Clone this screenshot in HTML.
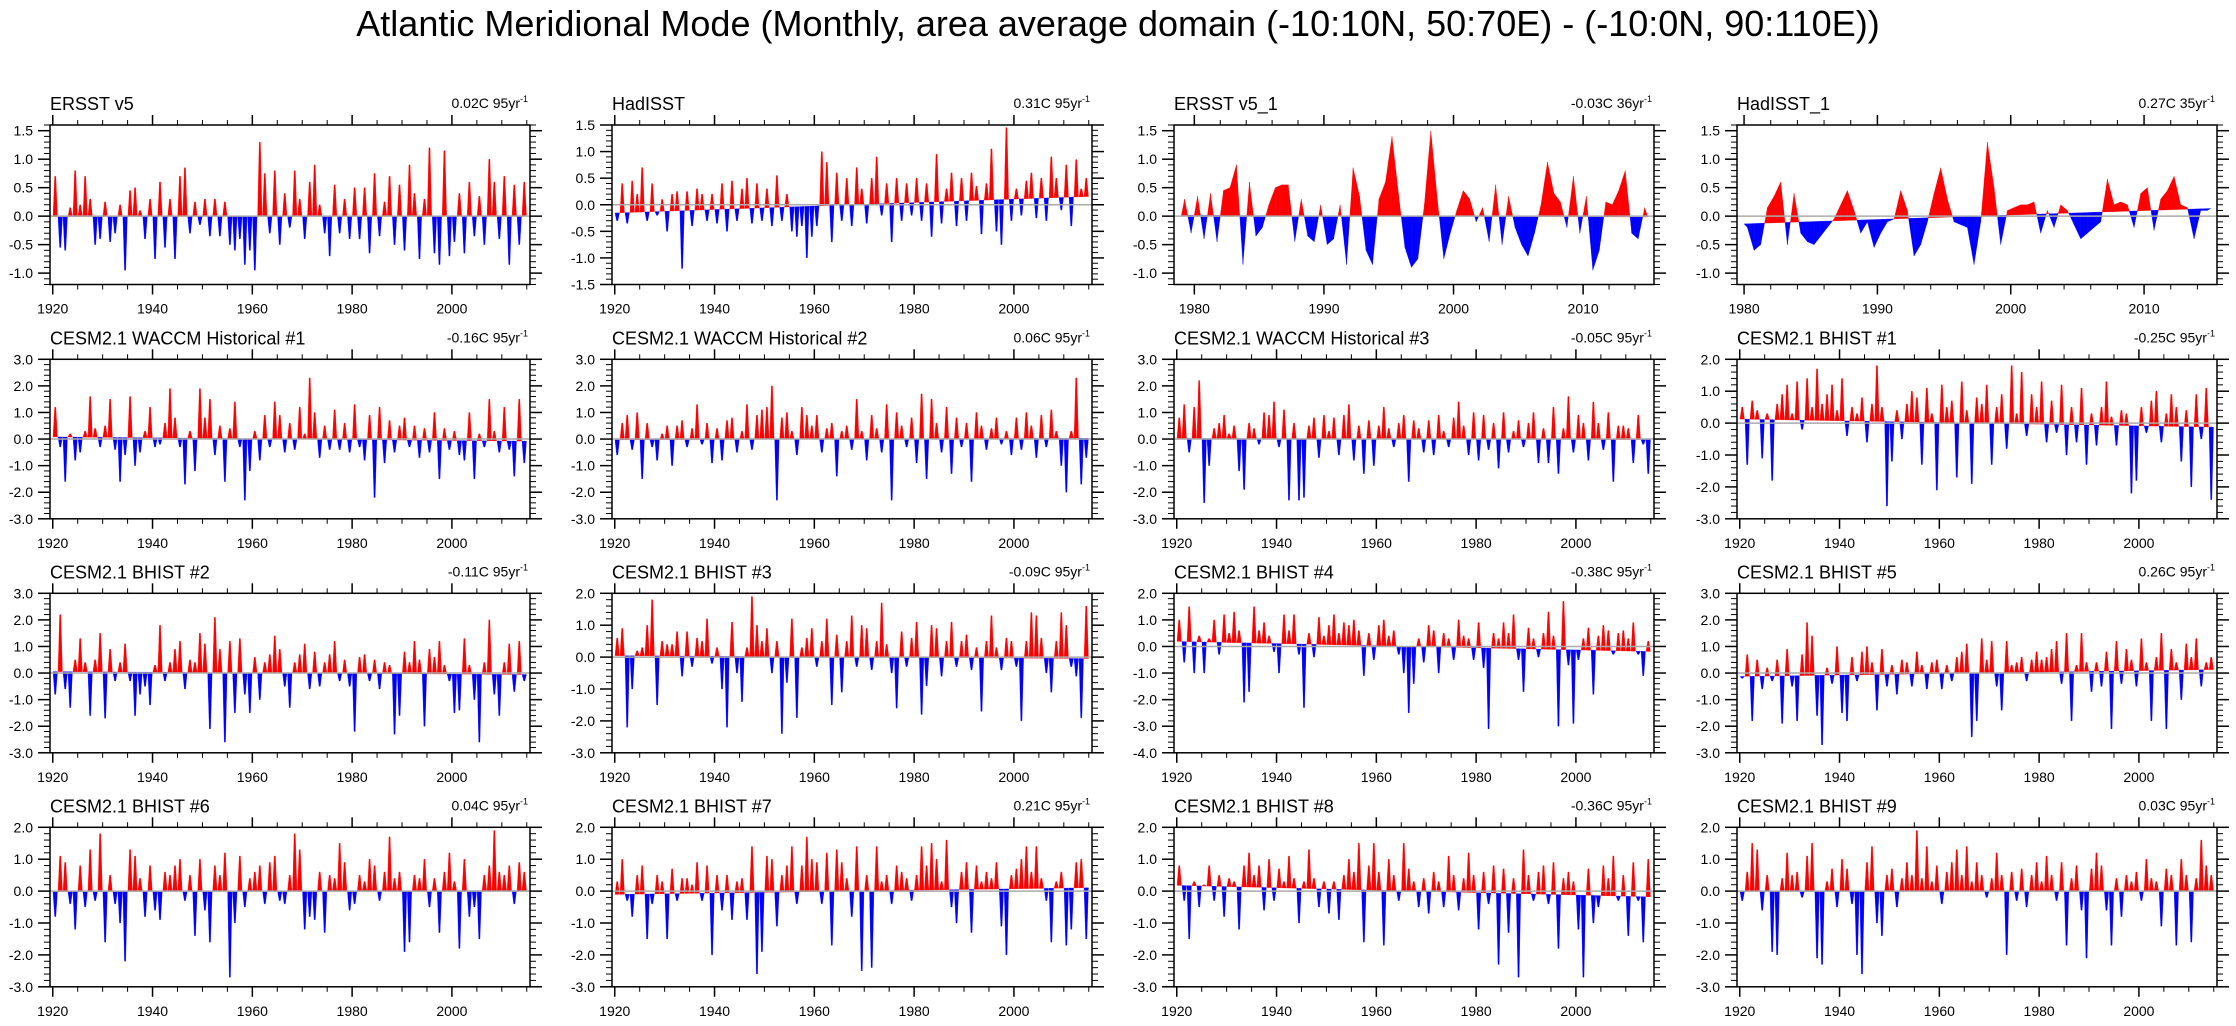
<!DOCTYPE html>
<html><head><meta charset="utf-8"><style>
html,body{margin:0;padding:0;background:#fff;}
svg{display:block;font-family:"Liberation Sans",Arial,sans-serif;}
</style></head><body>
<svg id="fig" width="2236" height="1026" viewBox="0 0 2236 1026">
<text x="1118" y="36" text-anchor="middle" font-size="36">Atlantic Meridional Mode (Monthly, area average domain (-10:10N, 50:70E) - (-10:0N, 90:110E))</text>
</svg>
<script>
// ---- data (annual / semiannual resolution) ----
const panelTitles = ["ERSST v5","HadISST","ERSST v5_1","HadISST_1",
 "CESM2.1 WACCM Historical #1","CESM2.1 WACCM Historical #2","CESM2.1 WACCM Historical #3","CESM2.1 BHIST #1",
 "CESM2.1 BHIST #2","CESM2.1 BHIST #3","CESM2.1 BHIST #4","CESM2.1 BHIST #5",
 "CESM2.1 BHIST #6","CESM2.1 BHIST #7","CESM2.1 BHIST #8","CESM2.1 BHIST #9"];
const trendValues = [0.02,0.31,-0.03,0.27,-0.16,0.06,-0.05,-0.25,-0.11,-0.09,-0.38,0.26,0.04,0.21,-0.36,0.03];
const trendYears = [95,95,36,35,95,95,95,95,95,95,95,95,95,95,95,95];
const startYears = [1920,1920,1979,1980,1920,1920,1920,1920,1920,1920,1920,1920,1920,1920,1920,1920];
const yMins = [-1.2,-1.5,-1.2,-1.2,-3,-3,-3,-3,-3,-3,-4,-3,-3,-3,-3,-3];
const yMaxs = [1.6,1.5,1.6,1.6,3,3,3,2,3,2,2,3,2,2,2,2];
const yTickSteps = [0.5,0.5,0.5,0.5,1,1,1,1,1,1,1,1,1,1,1,1];

const s1 = [0.7,-0.55,-0.6,0.15,0.8,0.2,0.7,0.3,-0.5,-0.4, 0.25,-0.45,-0.3,0.2,-0.95,0.45,0.5,0.1,-0.4,0.3, -0.75,0.6,-0.55,0.3,-0.75,0.7,0.85,-0.3,0.25,-0.15, 0.3,-0.35,0.3,-0.35,0.25,-0.5,-0.6,-0.4,-0.85,-0.6, -0.95,1.3,0.75,-0.3,0.8,-0.5,0.4,-0.2,0.8,0.3, -0.4,0.6,0.9,0.2,-0.3,-0.7,0.55,-0.3,0.3,-0.4, 0.5,-0.4,0.5,-0.65,0.75,-0.35,0.25,0.7,-0.5,0.55, -0.6,0.9,0.4,-0.75,0.3,1.2,-0.65,-0.85,1.15,-0.7, -0.45,0.4,-0.65,0.6,-0.35,0.35,-0.5,1.0,0.6,-0.4, 0.7,-0.85,0.55,-0.5,0.6];
const s2 = [-0.3,0.4,-0.35,0.45,0.2,0.7,-0.3,0.4,-0.2,0.1, -0.5,0.2,0.25,-1.2,0.25,-0.4,0.3,0.2,-0.3,0.2, -0.35,0.4,-0.5,0.45,-0.3,0.3,0.5,-0.35,0.4,-0.3, 0.3,-0.4,0.55,-0.3,0.2,-0.5,-0.6,-0.4,-1.0,-0.6, -0.4,1.0,0.8,-0.7,0.6,-0.3,0.5,-0.4,0.7,0.3, -0.35,0.5,0.9,-0.2,0.4,-0.7,0.5,-0.3,0.4,-0.2, 0.5,-0.3,0.4,-0.6,0.95,-0.35,0.3,0.6,-0.4,0.5, -0.3,0.6,0.35,-0.55,0.4,1.05,-0.5,-0.75,1.45,-0.3, 0.3,-0.2,0.45,0.6,-0.25,0.5,-0.3,0.9,0.5,-0.1, 0.75,-0.4,0.85,0.3,0.5];
const s3 = [0.3,-0.3,0.35,-0.4,0.4,-0.45,0.45,0.5,0.9,-0.85,0.6,-0.35,-0.2,0.2,0.5,0.55,0.55,-0.45,0.3,-0.35,-0.45,0.2,-0.5,-0.4,0.2,-0.85,0.85,0.35,-0.6,-0.85,0.3,0.6,1.4,0.4,-0.55,-0.9,-0.75,0.2,1.5,0.3,-0.75,-0.3,0.1,0.45,0.3,-0.1,0.15,-0.45,0.55,-0.5,0.35,-0.2,-0.5,-0.7,-0.3,0.2,0.95,0.4,0.25,-0.2,0.7,-0.3,0.35,-0.95,-0.6,0.25,0.2,0.45,0.8,-0.3,-0.4,0.15];
const s4 = [-0.2,-0.6,-0.5,0.15,0.35,0.6,-0.5,0.4,-0.3,-0.45,-0.5,-0.35,-0.2,-0.05,0.2,0.45,0.1,-0.3,-0.1,-0.55,-0.3,-0.1,-0.05,0.45,0.1,-0.7,-0.5,-0.1,0.4,0.85,0.3,-0.1,-0.15,-0.2,-0.85,-0.1,1.3,0.5,-0.5,0.1,0.15,0.2,0.2,0.25,-0.3,0.1,-0.2,0.2,0.1,-0.15,-0.4,-0.3,-0.2,-0.1,0.65,0.2,0.25,0.2,-0.2,0.4,0.5,-0.25,0.3,0.45,0.7,0.2,0.15,-0.4,0.1,0.1];
const s5 = [1.2,-0.3,-1.6,0.2,-0.8,-0.5,0.3,1.6,0.4,-0.3, 0.5,1.5,-0.4,-1.6,-0.6,1.6,-1.0,-0.5,0.3,1.2, -0.3,-0.2,0.6,1.9,0.8,-0.3,-1.7,0.3,-1.2,1.9, 0.8,1.5,-0.6,0.5,-1.6,0.4,1.4,-0.3,-2.3,-1.2, 0.3,-0.8,0.9,-0.3,1.4,0.9,-0.5,0.6,-0.4,1.2, 0.2,2.3,1.0,-0.7,0.5,-0.4,1.1,-0.4,0.6,-0.5, 1.3,-0.3,-0.8,0.9,-2.2,1.2,-0.9,0.7,-0.5,0.5, 0.8,-0.3,0.5,-0.7,0.4,-0.5,1.0,-1.5,0.4,-0.4, 0.3,-0.6,-0.8,1.0,-1.5,0.2,-0.3,1.5,0.3,-0.5, 1.2,-0.4,-1.4,1.5,-0.9];
const s6 = [-0.6,0.6,0.9,-0.4,1.0,-1.5,0.6,-0.3,-0.8,0.2, 0.5,-1.0,0.5,0.7,-0.3,0.4,1.3,-0.2,0.6,-0.9, 0.4,-0.8,0.7,0.8,-0.5,0.3,1.3,-0.4,0.9,1.1, 1.2,2.0,-2.3,0.8,1.0,0.3,-0.6,1.2,0.9,0.5, 0.9,-0.5,0.4,0.6,-1.4,0.3,0.5,-0.4,1.5,0.3, -0.8,0.9,0.4,-0.5,1.3,-2.3,1.0,0.5,-0.3,0.8, -0.9,1.7,-1.5,1.5,0.6,-0.5,1.2,-1.3,0.8,-0.3, 0.6,-1.6,1.0,0.5,-0.4,0.4,0.8,-0.2,0.3,-0.6, 0.8,-0.4,1.0,0.5,-0.7,0.9,-0.3,1.1,0.3,-1.0, -2.0,0.3,2.3,-1.7,-0.7];
const s7 = [0.8,1.3,-0.5,1.2,2.2,-2.4,-1.0,0.4,0.6,0.9, 0.2,0.5,-1.2,-1.9,0.6,0.4,-0.2,1.0,0.9,1.4, -0.3,1.1,-2.3,0.6,-2.3,-2.2,0.5,0.8,-0.7,0.9, 0.3,0.8,-0.6,0.9,1.3,-0.8,0.5,-1.3,0.7,-1.0, 0.5,1.2,0.4,-0.3,0.6,0.9,-1.6,0.7,0.4,-0.5, 0.7,-0.6,0.9,0.3,-0.3,0.8,1.4,0.5,-0.6,1.0, -0.8,0.9,-0.4,0.6,-1.1,1.0,-0.5,0.3,0.7,-0.3, 0.6,1.0,-0.9,0.4,-0.9,1.2,-1.3,0.4,1.6,-0.5, 0.9,0.6,-0.8,1.4,0.6,-0.4,1.0,-1.6,0.5,0.5, 0.4,-0.9,0.9,-0.2,-1.3];
const s8 = [0.5,-1.3,0.7,0.4,-1.1,0.3,-1.8,0.6,0.9,1.2, 0.3,1.3,-0.2,1.4,0.5,1.7,0.6,0.9,1.2,0.4, 1.4,-0.4,0.5,0.3,0.8,-0.6,0.6,1.8,0.5,-2.6, -1.2,0.4,-0.5,0.6,1.0,0.8,-1.3,1.1,0.3,-2.1, 1.2,0.5,0.7,-1.7,1.3,0.4,-1.9,0.8,0.6,1.2, -1.3,0.5,0.9,-0.8,1.8,0.3,1.6,-0.4,0.9,0.5, 1.3,-0.6,0.7,-0.3,1.2,-1.0,0.5,-0.6,1.1,-1.3, 0.3,-0.7,0.5,1.3,0.2,-0.7,0.4,0.3,-2.2,-1.8, 0.5,-0.3,0.7,1.0,-0.6,0.3,0.9,0.5,-1.2,0.4, -2.0,0.9,-0.5,1.1,-2.4];
const s9 = [-0.8,2.2,-0.6,-1.3,0.5,1.3,0.4,-1.6,0.5,1.5, -1.7,0.9,-0.3,0.4,1.1,-0.3,-1.6,-0.8,-0.5,-1.2, 0.3,1.8,-0.3,0.4,0.9,1.2,-0.6,0.5,0.4,1.5, 1.1,-2.1,2.1,0.9,-2.6,1.2,-1.5,1.3,-0.8,-1.5, 0.6,-1.0,0.4,0.7,1.4,0.9,-0.5,-1.3,0.4,0.7, 1.1,-0.6,0.8,-0.5,0.4,0.7,1.2,-0.3,0.5,-0.5, -2.2,0.6,0.7,-0.3,0.5,-0.6,0.4,0.3,-2.3,-1.6, 0.8,0.4,1.2,0.5,-2.0,0.9,0.6,1.2,0.3,-0.3, -1.5,-1.4,1.3,0.3,-1.0,-2.6,0.4,2.0,-0.8,-1.6, 0.4,1.1,-0.7,1.2,-0.3];
const s10 = [0.6,0.9,-2.2,-1.0,0.2,0.3,1.0,1.8,-1.5,0.5, 0.4,0.4,0.8,-0.6,0.8,-0.3,0.6,0.5,1.2,-0.2, 0.3,-1.0,-2.2,1.1,-0.5,-1.4,0.3,1.9,1.0,0.5, 0.9,-0.5,0.5,-2.4,-0.8,1.2,-1.9,0.3,0.6,0.9, -0.3,0.5,1.2,-1.5,0.7,-1.1,0.5,1.3,-0.3,1.0, 0.9,-0.4,0.5,1.7,0.4,-0.5,-1.6,0.8,-0.3,0.6, 1.1,-1.8,-0.9,1.0,0.9,-0.6,0.5,1.1,-0.3,0.5, 0.7,-0.4,0.3,-1.7,0.5,1.3,0.3,-0.4,0.6,0.5, -0.3,-2.0,0.5,1.4,1.3,0.6,-0.5,-1.1,0.5,1.4, 1.0,-0.3,-0.6,-1.9,1.6];
const s11 = [1.0,-0.6,1.5,-1.0,0.4,-1.0,0.3,1.0,-0.3,1.2, 0.5,1.3,0.6,-2.1,-1.7,1.5,0.6,0.9,0.4,-0.2, -1.0,1.2,0.6,1.2,-0.3,-2.3,0.5,-0.4,1.1,0.4, 0.8,1.2,0.5,0.9,0.8,1.0,0.6,-1.1,0.5,-0.5, 0.8,1.0,0.4,0.6,-0.3,-1.0,-2.5,-1.4,0.3,-0.6, 0.8,0.6,-1.0,0.5,0.3,-0.5,1.0,0.4,0.3,-0.5, 0.9,-0.8,-3.1,0.5,0.3,0.9,0.5,1.2,-0.5,-1.7, 0.7,0.3,-0.4,0.5,1.3,0.4,-3.0,1.7,-0.7,-2.9, -0.5,0.3,0.7,-1.8,0.4,0.8,0.6,-0.3,0.5,0.6, 0.3,0.9,-0.3,-1.1,0.2];
const s12 = [-0.2,0.7,-1.8,0.5,-0.6,0.2,-0.3,0.5,-1.9,0.9, -0.5,-1.8,0.7,1.9,1.4,-1.6,-2.7,0.2,-0.4,1.0, -1.5,-1.8,0.6,-0.3,0.8,1.0,0.4,-1.4,0.9,-0.5, 0.3,-0.8,0.5,0.4,-0.5,0.8,0.3,-0.6,0.4,0.5, -0.6,0.3,-0.3,0.6,0.8,1.1,-2.4,-1.8,1.3,0.5, 1.2,-0.5,-1.4,1.2,0.3,0.4,0.6,-0.3,0.5,0.8, 0.5,0.6,0.9,1.2,-0.4,1.5,-1.8,0.3,1.5,0.4, -0.7,0.4,-0.5,0.8,-2.1,1.2,-0.4,0.9,0.5,-0.5, 1.3,0.4,-1.8,0.6,1.5,-2.1,0.9,0.4,-1.0,1.1, 0.6,1.3,-0.5,0.4,0.6];
const s13 = [-0.8,1.1,0.9,-0.4,-1.2,0.8,-0.5,1.3,-0.3,1.8, -1.6,0.5,-0.4,-1.0,-2.2,1.3,1.1,0.4,-0.8,0.8, -0.6,-0.9,0.6,0.5,0.8,1.0,-0.3,0.5,-1.4,1.0, -0.6,-1.6,0.8,0.5,1.2,-2.7,-1.0,1.1,-0.5,0.4, 0.6,0.8,-0.4,0.9,1.1,-0.3,-0.4,0.5,1.8,1.3, -1.2,-0.8,-0.9,0.6,-1.3,0.5,0.4,1.5,0.9,-0.6, -0.4,0.5,0.3,1.0,0.8,-0.3,0.6,1.7,0.4,0.6, -1.9,-1.6,0.5,0.4,1.0,-0.5,0.4,-1.3,0.6,1.2, 0.3,-1.8,1.0,-0.8,-0.5,-1.5,0.5,0.8,1.9,0.6, 0.5,0.8,-0.4,0.9,0.6];
const s14 = [0.3,1.0,-0.3,-0.8,0.5,0.8,-1.5,-0.4,0.5,0.3, -1.5,0.7,-0.3,0.4,0.4,0.2,0.9,-0.3,0.8,-2.0, 0.5,-0.6,0.5,-0.9,0.3,0.4,-0.9,1.4,-2.6,-1.9, 1.1,1.0,-1.1,0.5,0.8,1.4,-0.4,0.8,1.7,1.0, 0.9,-0.4,1.2,-1.7,1.3,0.9,0.4,-0.8,1.4,-2.5, 0.5,-2.4,1.4,0.3,0.5,-0.4,0.8,0.6,0.4,-0.3, 0.5,1.4,0.8,1.5,1.0,0.3,1.6,-0.5,-1.0,0.6, 0.9,-1.3,0.8,0.3,0.6,0.4,0.9,-1.1,-2.0,0.5, 0.7,1.0,1.4,0.6,1.4,0.4,-0.3,-1.6,0.3,0.6, -1.7,-1.2,0.9,1.0,-1.5];
const s15 = [0.8,-0.3,-1.5,0.3,-0.5,0.2,0.8,-0.3,0.5,-0.8, 0.4,0.3,-1.2,0.8,1.2,0.5,0.8,-0.6,1.0,-0.3, 0.7,0.3,1.1,0.4,-1.0,0.3,1.3,0.4,-0.5,0.3, -0.7,0.3,-0.9,0.5,1.0,0.6,1.5,-1.6,0.8,1.5, 0.6,-1.7,1.0,0.5,-0.3,1.5,0.7,0.3,-0.5,0.4, -0.7,0.6,0.3,-0.5,1.1,0.5,-0.6,0.4,1.2,0.5, -1.2,0.6,-0.4,0.8,-2.3,0.7,-1.3,0.4,-2.7,1.3, 0.5,-0.3,0.6,0.8,-0.4,0.9,-1.8,0.4,0.6,0.3, -1.2,-2.7,0.7,-1.0,-0.5,0.8,0.4,1.1,-0.3,0.5, -1.4,0.9,-0.3,-1.6,1.0];
const s16 = [-0.3,0.6,1.5,1.3,-0.6,0.5,-1.9,-2.0,0.4,1.2, 0.5,0.6,-0.2,1.1,1.5,-2.1,-2.3,0.3,0.7,-0.5, 1.0,0.7,-0.4,-2.0,-2.6,0.9,1.4,-1.0,-1.4,0.5, 0.7,-0.5,0.4,0.9,0.5,1.9,0.4,1.4,0.3,0.8, -0.4,0.6,0.9,1.3,0.5,1.4,0.3,0.9,0.5,-0.2, 0.4,1.2,0.5,-2.0,0.6,-0.3,0.7,-0.5,0.5,0.9, 0.3,1.1,0.5,-0.3,0.9,-1.7,0.4,0.8,-0.6,-2.1, 0.7,1.2,0.8,-0.6,-1.7,0.4,-0.8,0.5,0.3,0.6, -0.3,1.0,0.4,0.3,-1.1,0.7,0.5,-1.7,1.0,0.5, -1.6,0.4,1.6,0.8,0.5];
const seriesList = [s1,s2,s3,s4,s5,s6,s7,s8,s9,s10,s11,s12,s13,s14,s15,s16];

// ---- layout ----
const colLeft = [50,612,1174,1737];
const rowTop = [125,359.3,593.3,827.3];
const boxW = 480, boxH = 159.5;
const NS = 'http://www.w3.org/2000/svg';
const svg = document.getElementById('fig');
function mk(tag, attrs, parent){ const e=document.createElementNS(NS,tag); for(const k in attrs) e.setAttribute(k,attrs[k]); (parent||svg).appendChild(e); return e; }
function fmt(v){ return (Math.abs(v)<1e-9?0:v).toFixed(1); }

for(let p=0;p<16;p++){
  const vals = seriesList[p];
  const L = colLeft[p%4], T = rowTop[Math.floor(p/4)];
  const span = trendYears[p];
  const x0 = startYears[p];
  const xmin = span>50 ? 1919.45 : (p===2 ? 1978.43 : 1979.47);
  const xmax = span>50 ? 2015.65 : 2015.47;
  const ymin = yMins[p], ymax = yMaxs[p];
  const X = t => L + (t - xmin)/(xmax - xmin)*boxW;
  const Y = v => T + (ymax - v)/(ymax - ymin)*boxH;
  const step = span / vals.length;
  const g = mk('g',{});
  
  
  const ref = t => trendValues[p]*((t - x0)/span - 0.5);
  const fills = mk('g',{},g);
  
  
  if(span>50){
    // long records: each value drawn as an isolated spike back to the trend line
    vals.forEach((v,i)=>{
      const tc = x0 + (i+0.5)*step, ta = tc - 0.45*step, tb = tc + 0.45*step;
      const col = v>=ref(tc) ? '#ff0000' : '#0000ff';
      const poly=mk('polygon',{points:`${X(ta)},${Y(ref(ta))} ${X(tc)-0.6},${Y(v)} ${X(tc)+0.6},${Y(v)} ${X(tb)},${Y(ref(tb))}`,fill:col,stroke:col,'stroke-width':0.3},fills);
      
      
    });
  } else {
    const pts = vals.map((v,i)=>[x0 + (i+0.5)*step, v]);
    pts.unshift([x0, ref(x0)]); pts.push([x0+span, ref(x0+span)]);
    for(let i=0;i<pts.length-1;i++){
      const [ta,va]=pts[i],[tb,vb]=pts[i+1];
      const da=va-ref(ta), db=vb-ref(tb);
      const seg=(t1,v1,t2,v2,col)=>{
        const poly=mk('polygon',{points:`${X(t1)},${Y(ref(t1))} ${X(t1)},${Y(v1)} ${X(t2)},${Y(v2)} ${X(t2)},${Y(ref(t2))}`,fill:col,stroke:col,'stroke-width':0.3},fills);
        
        
      };
      if(da*db>=0){ seg(ta,va,tb,vb,(da+db)>=0?'#ff0000':'#0000ff'); }
      else{ const f=da/(da-db); const tc=ta+f*(tb-ta); const vc=ref(tc);
        seg(ta,va,tc,vc,da>0?'#ff0000':'#0000ff'); seg(tc,vc,tb,vb,db>0?'#ff0000':'#0000ff'); }
    }
  }
  const zl=mk('line',{x1:L,x2:L+boxW,y1:Y(0),y2:Y(0),stroke:'#aaaaaa','stroke-width':1.5},g);
  
  
  const box=mk('rect',{x:L,y:T,width:boxW,height:boxH,fill:'none',stroke:'#000','stroke-width':1.5},g);
  
  
  const major = span>50?20:10, minor = span>50?5:2;
  const firstYear = Math.ceil(xmin);
  for(let yr=firstYear; yr<=xmax; yr++){
    if(yr%minor!==0 && yr%major!==0) continue;
    const isMaj = yr%major===0, len = isMaj?10:5, x=X(yr);
    mk('line',{x1:x,x2:x,y1:T,y2:T-len,stroke:'#000','stroke-width':isMaj?1.5:1},g);
    mk('line',{x1:x,x2:x,y1:T+boxH,y2:T+boxH+len,stroke:'#000','stroke-width':isMaj?1.5:1},g);
    if(isMaj){
      const tl=mk('text',{x:x,y:T+boxH+29,'text-anchor':'middle','font-size':14},g);
      tl.textContent=yr;
      
      
    }
  }
  const ys=yTickSteps[p], ym=ys/5;
  for(let k=Math.ceil(ymin/ym-1e-6); k*ym<=ymax+1e-6; k++){
    const v=k*ym, y=Y(v);
    const isMaj = Math.abs(v/ys - Math.round(v/ys))<1e-6;
    const len = isMaj?12:6;
    mk('line',{x1:L,x2:L-len,y1:y,y2:y,stroke:'#000','stroke-width':isMaj?1.5:1},g);
    mk('line',{x1:L+boxW,x2:L+boxW+len,y1:y,y2:y,stroke:'#000','stroke-width':isMaj?1.5:1},g);
    if(isMaj){
      const tl=mk('text',{x:L-17,y:y+5,'text-anchor':'end','font-size':14},g);
      tl.textContent=fmt(v);
      
      
    }
  }
  const tt=mk('text',{x:L,y:T-15,'font-size':18},g);
  tt.textContent=panelTitles[p];
  
  
  const tr=mk('text',{x:L+boxW-2,y:T-17,'text-anchor':'end','font-size':14},g);
  
  
  const ts1=mk('tspan',{},tr); ts1.textContent=trendValues[p].toFixed(2)+'C '+span+'yr';
  const ts2=mk('tspan',{dy:-6,'font-size':9},tr); ts2.textContent='-1';
}
</script>
</body></html>
